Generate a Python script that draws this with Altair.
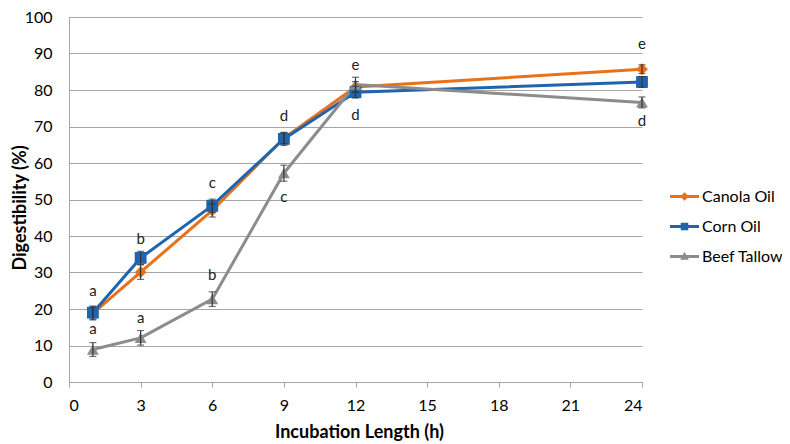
import altair as alt
import pandas as pd

hours = [1, 3, 6, 9, 12, 24]
series = ["Canola Oil", "Corn Oil", "Beef Tallow"]
canola = [18.8, 30.1, 47.0, 66.8, 80.8, 85.7]
corn = [19.0, 34.0, 48.3, 66.6, 79.4, 82.2]
beef = [8.9, 12.1, 22.7, 57.2, 81.5, 76.6]
canola_err = [1.8, 2.0, 1.8, 1.5, 1.5, 1.2]
corn_err = [1.8, 1.8, 1.8, 1.8, 1.6, 1.5]
beef_err = [1.9, 2.0, 2.0, 2.2, 2.0, 1.5]

letter_x = [1, 1, 3, 3, 6, 6, 9, 9, 12, 12, 24, 24]
letter_y = [24.8, 14.4, 39.3, 17.6, 54.5, 29.4, 73.0, 50.8, 86.9, 73.2, 92.5, 71.6]
letter_t = ["a", "a", "b", "a", "c", "b", "d", "c", "e", "d", "e", "d"]

x_ticks = [0, 3, 6, 9, 12, 15, 18, 21, 24]
y_ticks = [0, 10, 20, 30, 40, 50, 60, 70, 80, 90, 100]

colors = ["#E8711A", "#1F64AD", "#8C8C8C"]
shapes = ["diamond", "square", "triangle-up"]
# legend glyphs: a short line with the series marker in its middle
legend_shapes = [
    "M-1,-0.1H1V0.1H-1ZM0,-0.3L0.3,0L0,0.3L-0.3,0Z",
    "M-1,-0.1H1V0.1H-1ZM-0.26,-0.26H0.26V0.26H-0.26Z",
    "M-1,-0.1H1V0.1H-1ZM0,-0.32L0.3,0.22H-0.3Z",
]

rows = []
for name, vals, errs in zip(series, [canola, corn, beef], [canola_err, corn_err, beef_err]):
    for h, v, e in zip(hours, vals, errs):
        rows.append({"series": name, "hours": h, "value": v, "lo": v - e, "hi": v + e})
df = pd.DataFrame(rows)
letters = pd.DataFrame({"hours": letter_x, "value": letter_y, "txt": letter_t})

FONT = "Lato"
GRID = "#A6A6A6"
PLOT_H = 365

x_enc = alt.X(
    "hours:Q",
    scale=alt.Scale(domain=[0, 24], nice=False, zero=False),
    axis=alt.Axis(
        values=x_ticks, title="Incubation Length (h)", grid=False,
        domainColor=GRID, tickColor=GRID, tickSize=5, labelPadding=10,
        labelFontSize=16, labelFont=FONT, labelColor="#000",
        titleFont=FONT, titleFontSize=18, titleFontWeight="bold", titleColor="#000",
        titleBaseline="middle", titleY=50, titleX=290,
    ),
)
y_axis = alt.Axis(
    values=y_ticks, title="Digestibility (%)", grid=True, gridColor=GRID,
    domainColor=GRID, ticks=False, labelPadding=17,
    labelFontSize=16, labelFont=FONT, labelColor="#000",
    titleFont=FONT, titleFontSize=18, titleFontWeight="bold", titleColor="#000",
    titleX=-49, titleY=PLOT_H / 2 + 8, titleAngle=270, titleBaseline="middle", titleAlign="center",
)
y_scale = alt.Scale(domain=[0, 100], nice=False)

legend = alt.Legend(
    title=None, orient="none", legendX=601, legendY=165,
    symbolSize=841, symbolStrokeWidth=0, symbolOpacity=1,
    labelFontSize=16, labelFont=FONT, labelColor="#000",
    rowPadding=7, labelOffset=3, padding=0,
)

base = alt.Chart(df)
layers = []
for name, c in zip(series, colors):
    layers.append(
        base.transform_filter(alt.datum.series == name)
        .mark_line(strokeWidth=3, color=c)
        .encode(x=x_enc, y=alt.Y("value:Q", scale=y_scale, axis=y_axis))
    )
for name, c, s in zip(series, colors, shapes):
    layers.append(
        base.transform_filter(alt.datum.series == name)
        .mark_point(filled=True, shape=s, size=140, color=c, opacity=1)
        .encode(x=x_enc, y=alt.Y("value:Q", scale=y_scale, axis=y_axis))
    )
layers.append(
    base.mark_errorbar(ticks={"size": 7, "thickness": 1.2, "color": "#333333"}, color="#333333", thickness=1.2)
    .encode(x=x_enc, y=alt.Y("lo:Q", scale=y_scale, axis=y_axis), y2="hi:Q")
)
layers.append(
    alt.Chart(letters).mark_text(font=FONT, fontSize=15, color="#222222", baseline="middle")
    .encode(x=x_enc, y=alt.Y("value:Q", scale=y_scale, axis=y_axis), text="txt:N")
)
# legend carrier (no marks drawn)
layers.append(
    base.transform_filter(alt.datum.hours < 0)
    .mark_point(filled=True, opacity=1)
    .encode(
        x=x_enc, y=alt.Y("value:Q", scale=y_scale, axis=y_axis),
        color=alt.Color("series:N", scale=alt.Scale(domain=series, range=colors), legend=legend),
        shape=alt.Shape("series:N", scale=alt.Scale(domain=series, range=legend_shapes), legend=legend),
    )
)

chart = alt.layer(*layers).properties(
    width=573, height=PLOT_H,
    autosize=alt.AutoSizeParams(type="none"),
    padding={"left": 61, "top": 9, "right": 140, "bottom": 64},
    background="white",
).configure_view(strokeWidth=0)

chart.save("out.html", embed_options={"renderer": "svg", "actions": False})
